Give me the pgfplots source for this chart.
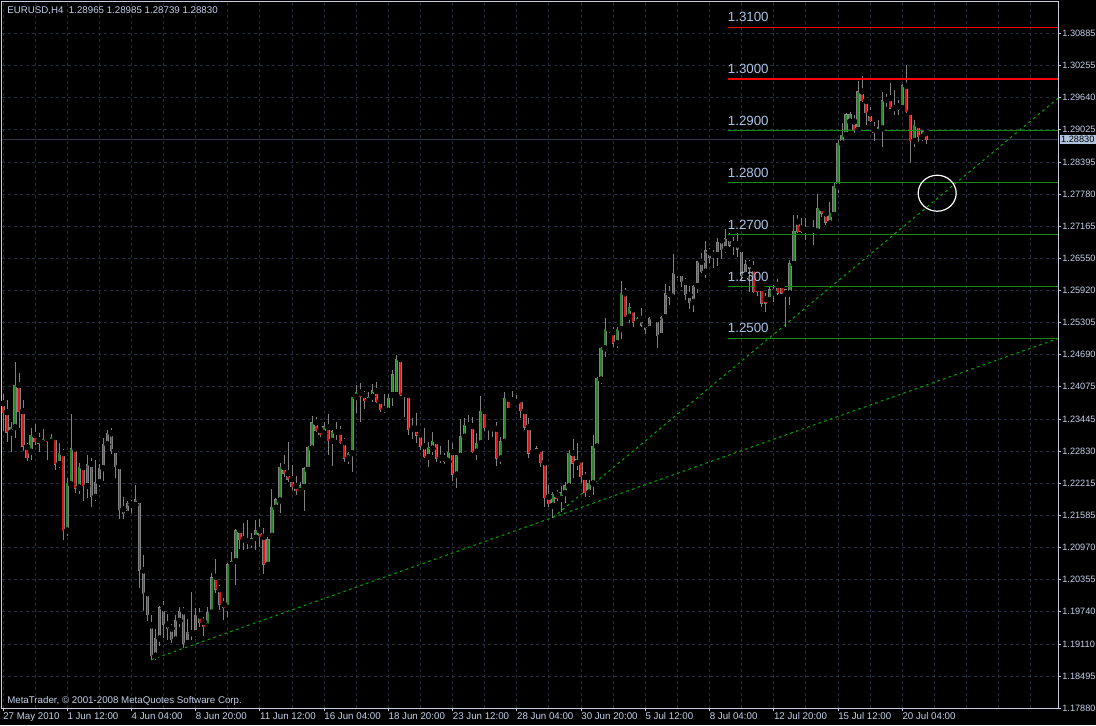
\documentclass[border=0pt]{standalone}
\usepackage{pgfplots}
\pgfplotsset{compat=1.18}
\usepackage{pgfplotstable}
\usepackage{fontspec}
\setmainfont{Liberation Sans}

\definecolor{gridc}{RGB}{36,44,60}
\definecolor{framec}{RGB}{196,206,226}
\definecolor{labc}{RGB}{196,208,232}
\definecolor{lvllab}{RGB}{170,196,232}
\definecolor{wick}{RGB}{130,130,130}
\definecolor{upc}{RGB}{34,139,34}
\definecolor{dnc}{RGB}{225,20,20}
\definecolor{lvlred}{RGB}{255,0,0}
\definecolor{lvlgreen}{RGB}{20,140,20}
\definecolor{trendc}{RGB}{0,170,0}
\definecolor{boxc}{RGB}{176,196,222}
\definecolor{pricec}{RGB}{48,56,76}

% EURUSD H4 candles: bar index, open, high, low, close
\pgfplotstableread{
i o h l c
0 1.2375 1.2394 1.2322 1.2357
1 1.2358 1.2382 1.2301 1.2319
2 1.2319 1.2340 1.2282 1.2329
3 1.2329 1.2454 1.2308 1.2410
4 1.2410 1.2433 1.2327 1.2359
5 1.2360 1.2382 1.2284 1.2292
6 1.2291 1.2298 1.2264 1.2270
7 1.2282 1.2327 1.2266 1.2314
8 1.2314 1.2335 1.2295 1.2301
9 1.2304 1.2317 1.2282 1.2298
10 1.2298 1.2326 1.2292 1.2306
11 1.2308 1.2314 1.2266 1.2301
12 1.2301 1.2316 1.2295 1.2310
13 1.2310 1.2314 1.2247 1.2258
14 1.2258 1.2298 1.2250 1.2279
15 1.2279 1.2288 1.2112 1.2130
16 1.2130 1.2231 1.2120 1.2221
17 1.2219 1.2355 1.2213 1.2288
18 1.2288 1.2288 1.2202 1.2211
19 1.2213 1.2260 1.2200 1.2252
20 1.2252 1.2258 1.2186 1.2216
21 1.2216 1.2276 1.2193 1.2258
22 1.2258 1.2270 1.2176 1.2195
23 1.2195 1.2266 1.2186 1.2223
24 1.2223 1.2258 1.2213 1.2250
25 1.2250 1.2308 1.2226 1.2296
26 1.2296 1.2323 1.2292 1.2317
27 1.2317 1.2327 1.2277 1.2284
28 1.2285 1.2288 1.2232 1.2253
29 1.2254 1.2255 1.2152 1.2170
30 1.2171 1.2194 1.2153 1.2162
31 1.2162 1.2187 1.2158 1.2183
32 1.2180 1.2189 1.2163 1.2183
33 1.2179 1.2218 1.2175 1.2189
34 1.2189 1.2191 1.2020 1.2053
35 1.2053 1.2083 1.1974 1.2008
36 1.2009 1.2010 1.1956 1.1968
37 1.1947 1.1968 1.1881 1.1889
38 1.1889 1.1940 1.1881 1.1922
39 1.1922 1.1985 1.1907 1.1981
40 1.1980 1.1995 1.1922 1.1949
41 1.1949 1.1970 1.1920 1.1941
42 1.1941 1.1949 1.1914 1.1920
43 1.1920 1.1967 1.1918 1.1956
44 1.1956 1.1983 1.1944 1.1974
45 1.1974 1.1983 1.1904 1.1913
46 1.1913 1.1959 1.1910 1.1934
47 1.1932 1.2011 1.1920 1.1935
48 1.1932 1.1980 1.1924 1.1966
49 1.1966 1.1980 1.1945 1.1952
50 1.1954 1.1964 1.1926 1.1945
51 1.1945 1.1982 1.1940 1.1972
52 1.1972 1.2048 1.1971 1.2039
53 1.2041 1.2075 1.2010 1.2017
54 1.2017 1.2025 1.1976 1.1988
55 1.1988 1.2000 1.1958 1.1981
56 1.1981 1.2067 1.1964 1.2064
57 1.2064 1.2089 1.2057 1.2071
58 1.2071 1.2132 1.2025 1.2130
59 1.2131 1.2136 1.2094 1.2112
60 1.2113 1.2145 1.2092 1.2108
61 1.2110 1.2150 1.2094 1.2105
62 1.2107 1.2125 1.2096 1.2115
63 1.2116 1.2150 1.2092 1.2130
64 1.2130 1.2153 1.2099 1.2118
65 1.2118 1.2134 1.2047 1.2065
66 1.2064 1.2118 1.2062 1.2112
67 1.2120 1.2210 1.2117 1.2175
68 1.2174 1.2192 1.2169 1.2189
69 1.2188 1.2261 1.2164 1.2252
70 1.2252 1.2275 1.2234 1.2240
71 1.2240 1.2301 1.2224 1.2229
72 1.2229 1.2256 1.2208 1.2214
73 1.2216 1.2235 1.2198 1.2207
74 1.2206 1.2224 1.2200 1.2216
75 1.2214 1.2253 1.2168 1.2249
76 1.2247 1.2292 1.2245 1.2290
77 1.2288 1.2351 1.2285 1.2338
78 1.2338 1.2349 1.2320 1.2322
79 1.2324 1.2329 1.2311 1.2315
80 1.2317 1.2340 1.2310 1.2330
81 1.2329 1.2354 1.2275 1.2303
82 1.2303 1.2324 1.2255 1.2320
83 1.2320 1.2340 1.2304 1.2318
84 1.2320 1.2331 1.2297 1.2299
85 1.2300 1.2308 1.2263 1.2269
86 1.2269 1.2281 1.2259 1.2279
87 1.2279 1.2388 1.2243 1.2387
88 1.2387 1.2410 1.2356 1.2396
89 1.2396 1.2414 1.2340 1.2388
90 1.2391 1.2399 1.2364 1.2380
91 1.2380 1.2397 1.2375 1.2387
92 1.2388 1.2412 1.2378 1.2399
93 1.2399 1.2417 1.2375 1.2378
94 1.2380 1.2386 1.2359 1.2363
95 1.2364 1.2394 1.2356 1.2361
96 1.2361 1.2394 1.2359 1.2385
97 1.2391 1.2439 1.2369 1.2430
98 1.2391 1.2468 1.2391 1.2459
99 1.2460 1.2462 1.2389 1.2391
100 1.2393 1.2396 1.2349 1.2390
101 1.2391 1.2397 1.2314 1.2325
102 1.2326 1.2346 1.2306 1.2324
103 1.2326 1.2356 1.2299 1.2314
104 1.2315 1.2322 1.2286 1.2292
105 1.2292 1.2327 1.2269 1.2272
106 1.2272 1.2301 1.2253 1.2290
107 1.2288 1.2320 1.2275 1.2302
108 1.2302 1.2304 1.2263 1.2269
109 1.2270 1.2292 1.2261 1.2268
110 1.2269 1.2279 1.2258 1.2263
111 1.2263 1.2304 1.2261 1.2281
112 1.2281 1.2299 1.2226 1.2238
113 1.2238 1.2275 1.2211 1.2274
114 1.2274 1.2344 1.2272 1.2311
115 1.2311 1.2346 1.2311 1.2333
116 1.2333 1.2352 1.2329 1.2330
117 1.2331 1.2349 1.2279 1.2282
118 1.2282 1.2317 1.2265 1.2298
119 1.2298 1.2389 1.2295 1.2360
120 1.2360 1.2362 1.2321 1.2328
121 1.2329 1.2335 1.2304 1.2326
122 1.2327 1.2333 1.2311 1.2325
123 1.2326 1.2340 1.2255 1.2269
124 1.2269 1.2311 1.2259 1.2301
125 1.2301 1.2396 1.2299 1.2385
126 1.2384 1.2389 1.2366 1.2367
127 1.2381 1.2398 1.2375 1.2378
128 1.2378 1.2391 1.2377 1.2383
129 1.2383 1.2385 1.2346 1.2361
130 1.2360 1.2365 1.2324 1.2329
131 1.2329 1.2346 1.2269 1.2279
132 1.2281 1.2288 1.2279 1.2284
133 1.2281 1.2292 1.2279 1.2288
134 1.2288 1.2290 1.2253 1.2261
135 1.2261 1.2263 1.2176 1.2193
136 1.2195 1.2218 1.2176 1.2182
137 1.2178 1.2205 1.2155 1.2200
138 1.2199 1.2208 1.2186 1.2191
139 1.2191 1.2215 1.2166 1.2203
140 1.2202 1.2224 1.2184 1.2216
141 1.2215 1.2285 1.2209 1.2279
142 1.2279 1.2306 1.2231 1.2260
143 1.2260 1.2299 1.2247 1.2267
144 1.2267 1.2269 1.2221 1.2234
145 1.2233 1.2243 1.2194 1.2203
146 1.2203 1.2227 1.2195 1.2221
147 1.2221 1.2314 1.2198 1.2292
148 1.2292 1.2426 1.2290 1.2423
149 1.2421 1.2484 1.2412 1.2481
150 1.2481 1.2540 1.2464 1.2518
151 1.2518 1.2523 1.2510 1.2513
152 1.2512 1.2523 1.2484 1.2491
153 1.2491 1.2523 1.2481 1.2518
154 1.2518 1.2611 1.2500 1.2587
155 1.2587 1.2597 1.2541 1.2542
156 1.2542 1.2568 1.2529 1.2560
157 1.2556 1.2561 1.2522 1.2531
158 1.2531 1.2542 1.2529 1.2539
159 1.2538 1.2558 1.2522 1.2526
160 1.2527 1.2532 1.2509 1.2518
161 1.2518 1.2542 1.2516 1.2539
162 1.2539 1.2545 1.2533 1.2537
163 1.2537 1.2543 1.2481 1.2505
164 1.2505 1.2543 1.2504 1.2541
165 1.2541 1.2606 1.2539 1.2586
166 1.2586 1.2601 1.2565 1.2579
167 1.2579 1.2663 1.2577 1.2626
168 1.2626 1.2633 1.2616 1.2624
169 1.2626 1.2629 1.2600 1.2609
170 1.2609 1.2616 1.2575 1.2584
171 1.2584 1.2601 1.2556 1.2570
172 1.2570 1.2603 1.2552 1.2601
173 1.2601 1.2649 1.2587 1.2648
174 1.2648 1.2665 1.2626 1.2629
175 1.2629 1.2687 1.2616 1.2669
176 1.2666 1.2674 1.2645 1.2656
177 1.2661 1.2670 1.2635 1.2659
178 1.2661 1.2694 1.2640 1.2685
179 1.2689 1.2696 1.2653 1.2671
180 1.2672 1.2712 1.2664 1.2693
181 1.2693 1.2704 1.2677 1.2680
182 1.2682 1.2696 1.2661 1.2680
183 1.2681 1.2703 1.2658 1.2672
184 1.2672 1.2674 1.2613 1.2622
185 1.2622 1.2651 1.2619 1.2642
186 1.2643 1.2651 1.2590 1.2635
187 1.2635 1.2649 1.2587 1.2590
188 1.2597 1.2603 1.2581 1.2590
189 1.2597 1.2598 1.2561 1.2568
190 1.2576 1.2587 1.2552 1.2568
191 1.2574 1.2600 1.2571 1.2594
192 1.2589 1.2603 1.2571 1.2594
193 1.2603 1.2615 1.2584 1.2587
194 1.2603 1.2605 1.2587 1.2587
195 1.2587 1.2594 1.2523 1.2594
196 1.2587 1.2651 1.2565 1.2644
197 1.2644 1.2738 1.2642 1.2707
198 1.2725 1.2738 1.2703 1.2706
199 1.2712 1.2732 1.2703 1.2706
200 1.2709 1.2732 1.2690 1.2706
201 1.2708 1.2710 1.2700 1.2705
202 1.2709 1.2728 1.2680 1.2704
203 1.2706 1.2779 1.2700 1.2751
204 1.2751 1.2754 1.2735 1.2741
205 1.2741 1.2744 1.2719 1.2724
206 1.2722 1.2764 1.2716 1.2741
207 1.2738 1.2800 1.2736 1.2793
208 1.2793 1.2883 1.2781 1.2876
209 1.2876 1.2916 1.2870 1.2892
210 1.2892 1.2934 1.2886 1.2931
211 1.2918 1.2937 1.2911 1.2931
212 1.2918 1.2931 1.2897 1.2902
213 1.2902 1.2997 1.2899 1.2976
214 1.2976 1.3006 1.2955 1.2958
215 1.2958 1.2963 1.2911 1.2935
216 1.2934 1.2947 1.2918 1.2920
217 1.2903 1.2918 1.2881 1.2897
218 1.2897 1.2921 1.2892 1.2906
219 1.2905 1.2976 1.2870 1.2958
220 1.2960 1.2972 1.2947 1.2965
221 1.2963 1.2992 1.2942 1.2944
222 1.2944 1.2979 1.2931 1.2948
223 1.2947 1.2960 1.2931 1.2942
224 1.2944 1.2990 1.2940 1.2987
225 1.2987 1.3027 1.2934 1.2937
226 1.2937 1.2942 1.2838 1.2881
227 1.2881 1.2921 1.2870 1.2911
228 1.2911 1.2911 1.2879 1.2889
229 1.2889 1.2902 1.2881 1.2898
230 1.28965 1.28985 1.28739 1.28830
}\candles

\begin{document}
\begin{tikzpicture}
% page: 1096 x 725 px, 1 px = 0.75pt
\fill[black] (-1.5pt,-12.75pt) rectangle (820.5pt,531pt);
\begin{axis}[
  at={(0,0)}, anchor=south west,
  scale only axis, width=792pt, height=529.5pt,
  xmin=-0.25, xmax=262.8, ymin=1.1788, ymax=1.31485,
  axis line style={draw=framec, line width=0.75pt},
  xtick={0,16,...,224},
  xticklabels={27 May 2010, 1 Jun 12:00, 4 Jun 04:00, 8 Jun 20:00, 11 Jun 12:00, 16 Jun 04:00, 18 Jun 20:00, 23 Jun 12:00, 28 Jun 04:00, 30 Jun 20:00, 5 Jul 12:00, 8 Jul 04:00, 12 Jul 20:00, 15 Jul 12:00, 20 Jul 04:00},
  minor xtick={8,24,...,232,240,248,256},
  ytick={1.17880,1.18495,1.19110,1.19740,1.20355,1.20970,1.21585,1.22215,1.22830,1.23445,1.24075,1.24690,1.25305,1.25920,1.26550,1.27165,1.27780,1.28395,1.29025,1.29640,1.30255,1.30885},
  yticklabels={1.17880,1.18495,1.19110,1.19740,1.20355,1.20970,1.21585,1.22215,1.22830,1.23445,1.24075,1.24690,1.25305,1.25920,1.26550,1.27165,1.27780,1.28395,1.29025,1.29640,1.30255,1.30885},
  xtick pos=left, ytick pos=right, yticklabel pos=right,
  tick align=outside, major tick length=2.25pt, minor tick length=0pt,
  tick style={draw=framec, line width=0.75pt},
  xmajorgrids, xminorgrids, ymajorgrids,
  major grid style={draw=gridc, line width=0.75pt, dash pattern=on 2.25pt off 2.25pt},
  minor grid style={draw=gridc, line width=0.75pt, dash pattern=on 2.25pt off 2.25pt},
  ticklabel style={text=labc},
  xticklabel style={font=\fontsize{7.3}{8}\selectfont, anchor=north west, xshift=-1pt, inner sep=1pt},
  yticklabel style={font=\fontsize{6.9}{8}\selectfont, anchor=west, inner sep=0.5pt, xshift=0.3pt},
]
% current price line
\addplot[draw=pricec, line width=0.75pt, forget plot] coordinates {(-0.25,1.2883) (262.8,1.2883)};

% trend lines
\addplot[draw=trendc, line width=0.75pt, dash pattern=on 2pt off 2.5pt, forget plot] coordinates {(36.9,1.1881) (262.8,1.2500)};
\addplot[draw=trendc, line width=0.75pt, dash pattern=on 2pt off 2.5pt, forget plot] coordinates {(137,1.2155) (262.8,1.2963)};

% wicks
\addplot[only marks, mark=none, forget plot,
  error bars/.cd, y dir=both, y explicit, error mark=none,
  error bar style={draw=wick, line width=0.75pt, line cap=butt}]
  table[x=i, y=o, y error plus expr=\thisrow{h}-\thisrow{o}, y error minus expr=\thisrow{o}-\thisrow{l}] {\candles};
% body outline
\addplot[only marks, mark=none, forget plot,
  error bars/.cd, y dir=both, y explicit, error mark=none,
  error bar style={draw=wick, line width=2.5pt, line cap=butt}]
  table[x=i, y=o, y error plus expr={max(\thisrow{c}-\thisrow{o},0)+0.0001}, y error minus expr={max(\thisrow{o}-\thisrow{c},0)+0.0001}] {\candles};
% up bodies
\addplot[only marks, mark=none, forget plot,
  error bars/.cd, y dir=plus, y explicit, error mark=none,
  error bar style={draw=upc, line width=1.2pt, line cap=butt}]
  table[x=i, y=o, y error plus expr={max(\thisrow{c}-\thisrow{o},0)}] {\candles};
% down bodies
\addplot[only marks, mark=none, forget plot,
  error bars/.cd, y dir=minus, y explicit, error mark=none,
  error bar style={draw=dnc, line width=1.2pt, line cap=butt}]
  table[x=i, y=o, y error minus expr={max(\thisrow{o}-\thisrow{c},0)}] {\candles};

% price levels
\addplot[draw=lvlred, line width=0.9pt, forget plot] coordinates {(180.5,1.3100) (262.8,1.3100)};
\addplot[draw=lvlred, line width=0.9pt, forget plot] coordinates {(180.5,1.3000) (262.8,1.3000)};
\addplot[draw=lvlgreen, line width=0.75pt, forget plot] coordinates {(180.5,1.2900) (262.8,1.2900)};
\addplot[draw=lvlgreen, line width=0.75pt, forget plot] coordinates {(180.5,1.2800) (262.8,1.2800)};
\addplot[draw=lvlgreen, line width=0.75pt, forget plot] coordinates {(180.5,1.2700) (262.8,1.2700)};
\addplot[draw=lvlgreen, line width=0.75pt, forget plot] coordinates {(180.5,1.2600) (262.8,1.2600)};
\addplot[draw=lvlgreen, line width=0.75pt, forget plot] coordinates {(180.5,1.2500) (262.8,1.2500)};

\foreach \lv in {1.3100,1.3000,1.2900,1.2800,1.2700,1.2600,1.2500}{
  \edef\temp{\noexpand\node[anchor=base west, inner sep=0pt, yshift=4.2pt, text=lvllab, font=\noexpand\fontsize{10}{12}\noexpand\selectfont] at (axis cs:180.5,\lv) {\lv};}
  \temp
}

\draw[white, line width=0.9pt] (axis cs:232.7,1.2780) ellipse [x radius=14.25pt, y radius=13.5pt];

\node[anchor=base west, inner sep=0pt, text=labc, font=\fontsize{7.3}{8}\selectfont] at (rel axis cs:0,1) [xshift=3.75pt, yshift=-9pt] {EURUSD,H4\ \ 1.28965 1.28985 1.28739 1.28830};
\node[anchor=base west, inner sep=0pt, text=labc, font=\fontsize{7.3}{8}\selectfont] at (rel axis cs:0,0) [xshift=3.75pt, yshift=3.75pt] {MetaTrader, © 2001-2008 MetaQuotes Software Corp.};
\end{axis}
\node[fill=boxc, text=black, anchor=west, inner sep=1pt, font=\fontsize{6.9}{8}\selectfont] at (793.2pt,{(1.2883-1.1788)/(1.31485-1.1788)*529.5pt}) {1.28830};
\pgfresetboundingbox
\path[use as bounding box] (-1.5pt,-12.75pt) rectangle (820.5pt,531pt);
\end{tikzpicture}
\end{document}
